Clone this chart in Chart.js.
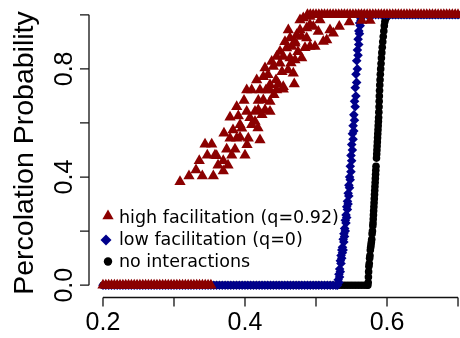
<!DOCTYPE html>
<html>
<head>
<meta charset="utf-8">
<script src="https://cdn.jsdelivr.net/npm/chart.js@4/dist/chart.umd.min.js"></script>
<style>
  html, body { margin: 0; padding: 0; background: #fff; }
  canvas { display: block; }
</style>
</head>
<body>
<canvas id="chart" width="460" height="338" style="width:460px;height:338px"></canvas>
<script>
// series names and colours
const seriesNames = ['high facilitation (q=0.92)', 'low facilitation (q=0)', 'no interactions'];
const seriesColors = ['#8b0000', '#00008b', '#000000'];
const seriesStyles = ['triangle', 'rectRot', 'circle'];

// axis ticks (R style: every tick drawn, only some labelled)
const xTicks = [0.2, 0.3, 0.4, 0.5, 0.6, 0.7];
const xTickLabels = ['0.2', '', '0.4', '', '0.6', ''];
const yTicks = [0, 0.2, 0.4, 0.6, 0.8, 1.0];
const yTickLabels = ['0.0', '', '0.4', '', '0.8', ''];
const yTitle = 'Percolation Probability';

// high facilitation: p values with probability 0, the noisy rise, p values with probability 1
const highZeroX = [0.200,0.204,0.208,0.212,0.216,0.220,0.224,0.228,0.232,0.236,0.240,0.244,0.248,0.252,0.256,0.260,0.264,0.268,0.272,0.276,0.280,0.284,0.288,0.292,0.296,0.300,0.304,0.308,0.312,0.316,0.320,0.324,0.328,0.332,0.336,0.340,0.344,0.348,0.352];
const highRiseX = [0.3085,0.3211,0.3399,0.3554,0.3694,0.3356,0.3694,0.3437,0.3531,0.3469,0.3577,0.3601,0.3742,0.3859,0.3813,0.4000,0.3704,0.3789,0.3883,0.3930,0.4046,0.3954,0.4094,0.4141,0.3789,0.3906,0.4024,0.4141,0.3883,0.3986,0.4187,0.4282,0.4352,0.4024,0.4094,0.4187,0.4258,0.4352,0.4165,0.4258,0.4211,0.4352,0.4446,0.4539,0.4352,0.4469,0.4539,0.4680,0.4694,0.4282,0.4399,0.4493,0.4376,0.4446,0.4539,0.4634,0.4704,0.4799,0.4493,0.4587,0.4658,0.4704,0.4610,0.4728,0.4799,0.4869,0.4915,0.4986,0.4775,0.4915,0.5197,0.5103,0.5151,0.5244,0.4869,0.4962,0.5032,0.4634,0.4704,0.5328,0.5469,0.5644,0.5761,0.4821,0.5056,
  0.4070,0.4239,0.4183,0.4296,0.4408,0.4324,0.4521,0.4606,0.4437,0.4211,0.4028,0.4563,0.4746,0.4845,0.4775,0.4915,0.4648,0.3930,0.3831,0.3620,0.3761,0.3310];
const highRiseY = [0.383,0.404,0.404,0.404,0.422,0.460,0.460,0.521,0.521,0.481,0.481,0.479,0.503,0.503,0.481,0.481,0.562,0.543,0.543,0.547,0.543,0.580,0.593,0.605,0.621,0.626,0.642,0.642,0.660,0.683,0.648,0.648,0.642,0.722,0.722,0.683,0.685,0.679,0.759,0.771,0.722,0.722,0.722,0.725,0.741,0.744,0.734,0.784,0.744,0.803,0.809,0.821,0.827,0.846,0.846,0.840,0.833,0.840,0.864,0.877,0.883,0.895,0.944,0.926,0.920,0.914,0.883,0.883,0.981,0.994,0.944,0.901,0.907,0.932,0.951,0.957,0.938,0.914,0.901,0.957,0.973,0.979,0.979,0.988,0.981,
  0.619,0.630,0.581,0.722,0.704,0.778,0.789,0.796,0.759,0.537,0.519,0.900,0.863,0.878,0.944,0.963,0.822,0.593,0.574,0.444,0.444,0.426];
const highOneX = [0.488,0.492,0.496,0.500,0.504,0.508,0.512,0.516,0.520,0.524,0.528,0.532,0.536,0.540,0.544,0.548,0.552,0.556,0.560,0.564,0.568,0.572,0.576,0.580,0.584,0.588,0.592,0.596,0.600,0.604,0.608,0.612,0.616,0.620,0.624,0.628,0.632,0.636,0.640,0.644,0.648,0.652,0.656,0.660,0.664,0.668,0.672,0.676,0.680,0.684,0.688,0.692,0.696,0.700];

// low facilitation
const lowZeroX = [0.200,0.204,0.208,0.212,0.216,0.220,0.224,0.228,0.232,0.236,0.240,0.244,0.248,0.252,0.256,0.260,0.264,0.268,0.272,0.276,0.280,0.284,0.288,0.292,0.296,0.300,0.304,0.308,0.312,0.316,0.320,0.324,0.328,0.332,0.336,0.340,0.344,0.348,0.352,0.356,0.360,0.364,0.368,0.372,0.376,0.380,0.384,0.388,0.392,0.396,0.400,0.404,0.408,0.412,0.416,0.420,0.424,0.428,0.432,0.436,0.440,0.444,0.448,0.452,0.456,0.460,0.464,0.468,0.472,0.476,0.480,0.484,0.488,0.492,0.496,0.500,0.504,0.508,0.512,0.516,0.520,0.524,0.528];
const lowRiseX = [0.5303,0.5322,0.5313,0.5332,0.5323,0.5342,0.5333,0.5352,0.5343,0.5362,0.5353,0.5372,0.5363,0.5382,0.5373,0.5392,0.5383,0.5402,0.5393,0.5412,0.5403,0.5422,0.5413,0.5432,0.5423,0.5442,0.5433,0.5452,0.5443,0.5462,0.5453,0.5472,0.5463,0.5482,0.5473,0.5492,0.5483,0.5502,0.5493,0.5512,0.5503,0.5522,0.5513,0.5532,0.5523,0.5542,0.5533,0.5552,0.5543,0.5562,0.5553,0.5572,0.5563,0.5582,0.5573,0.5592,0.5583,0.5602,0.5593,0.5612,0.5603,0.5622,0.5613,0.5632,0.5623,0.5642,0.5633];
const lowRiseY = [0.00,0.01,0.02,0.03,0.04,0.05,0.06,0.08,0.09,0.10,0.11,0.12,0.13,0.13,0.14,0.16,0.17,0.18,0.19,0.20,0.21,0.23,0.24,0.25,0.26,0.28,0.29,0.30,0.31,0.33,0.34,0.36,0.37,0.39,0.40,0.42,0.44,0.46,0.48,0.50,0.52,0.54,0.56,0.57,0.59,0.61,0.63,0.66,0.68,0.70,0.73,0.75,0.78,0.80,0.83,0.85,0.87,0.89,0.91,0.93,0.94,0.96,0.97,0.98,0.99,1.00,1.00];
const lowOneX = [0.568,0.572,0.576,0.580,0.584,0.588,0.592,0.596,0.600,0.604,0.608,0.612,0.616,0.620,0.624,0.628,0.632,0.636,0.640,0.644,0.648,0.652,0.656,0.660,0.664,0.668,0.672,0.676,0.680,0.684,0.688,0.692,0.696,0.700];

// no interactions
const noneZeroX = [0.200,0.204,0.208,0.212,0.216,0.220,0.224,0.228,0.232,0.236,0.240,0.244,0.248,0.252,0.256,0.260,0.264,0.268,0.272,0.276,0.280,0.284,0.288,0.292,0.296,0.300,0.304,0.308,0.312,0.316,0.320,0.324,0.328,0.332,0.336,0.340,0.344,0.348,0.352,0.356,0.360,0.364,0.368,0.372,0.376,0.380,0.384,0.388,0.392,0.396,0.400,0.404,0.408,0.412,0.416,0.420,0.424,0.428,0.432,0.436,0.440,0.444,0.448,0.452,0.456,0.460,0.464,0.468,0.472,0.476,0.480,0.484,0.488,0.492,0.496,0.500,0.504,0.508,0.512,0.516,0.520,0.524,0.528,0.532,0.536,0.540,0.544,0.548,0.552,0.556,0.560,0.564,0.568,0.572];
const noneRiseX = [0.5730,0.5735,0.5738,0.5741,0.5745,0.5750,0.5755,0.5760,0.5765,0.5770,0.5775,0.5780,0.5785,0.5790,0.5795,0.5800,0.5803,0.5806,0.5809,0.5812,0.5815,0.5818,0.5821,0.5824,0.5827,0.5830,0.5833,0.5836,0.5839,0.5842,0.5845,0.5852,0.5855,0.5858,0.5861,0.5864,0.5867,0.5870,0.5873,0.5876,0.5879,0.5882,0.5885,0.5888,0.5890,0.5892,0.5895,0.5898,0.5902,0.5906,0.5911,0.5916,0.5921,0.5927,0.5933,0.5940,0.5947,0.5955,0.5962,0.5970,0.5980,0.5990,0.6000,0.6010,0.6020];
const noneRiseY = [0.00,0.01,0.03,0.05,0.07,0.08,0.10,0.11,0.13,0.14,0.15,0.16,0.17,0.19,0.20,0.22,0.23,0.245,0.26,0.275,0.29,0.305,0.32,0.335,0.35,0.365,0.38,0.395,0.41,0.425,0.44,0.47,0.485,0.50,0.515,0.53,0.545,0.56,0.575,0.59,0.605,0.62,0.64,0.66,0.68,0.70,0.72,0.74,0.76,0.78,0.80,0.82,0.84,0.86,0.88,0.90,0.92,0.94,0.96,0.975,0.985,0.99,0.995,1.00,1.00];
const noneOneX = [0.604,0.608,0.612,0.616,0.620,0.624,0.628,0.632,0.636,0.640,0.644,0.648,0.652,0.656,0.660,0.664,0.668,0.672,0.676,0.680,0.684,0.688,0.692,0.696,0.700];

function buildPoints(zeroX, riseX, riseY, oneX) {
  const pts = [];
  zeroX.forEach(x => pts.push({ x: x, y: 0 }));
  riseX.forEach((x, i) => pts.push({ x: x, y: riseY[i] }));
  oneX.forEach(x => pts.push({ x: x, y: 1 }));
  return pts;
}

const tickFont = '25px "Liberation Sans", Arial, sans-serif';
const titleFont = '28.5px "Liberation Sans", Arial, sans-serif';
const legendFont = '17.5px "DejaVu Sans", sans-serif';

// draws the base-graphics style axes and the legend using the chart's scales
const rAxes = {
  id: 'rAxes',
  afterDraw(chart) {
    const { ctx, chartArea } = chart;
    const xs = chart.scales.x;
    const ys = chart.scales.y;
    const tickLen = 9;
    ctx.save();
    ctx.strokeStyle = '#111';
    ctx.lineWidth = 1.3;
    ctx.fillStyle = '#000';

    // x axis
    const xLineY = chartArea.bottom + 1.5;
    ctx.beginPath();
    ctx.moveTo(xs.getPixelForValue(xTicks[0]), xLineY);
    ctx.lineTo(xs.getPixelForValue(xTicks[xTicks.length - 1]), xLineY);
    xTicks.forEach(t => {
      const px = xs.getPixelForValue(t);
      ctx.moveTo(px, xLineY);
      ctx.lineTo(px, xLineY + tickLen);
    });
    ctx.stroke();
    ctx.font = tickFont;
    ctx.textAlign = 'center';
    ctx.textBaseline = 'alphabetic';
    xTicks.forEach((t, i) => {
      if (xTickLabels[i]) ctx.fillText(xTickLabels[i], xs.getPixelForValue(t), 330);
    });

    // y axis
    const yLineX = chartArea.left;
    ctx.beginPath();
    ctx.moveTo(yLineX, ys.getPixelForValue(yTicks[0]));
    ctx.lineTo(yLineX, ys.getPixelForValue(yTicks[yTicks.length - 1]));
    yTicks.forEach(t => {
      const py = ys.getPixelForValue(t);
      ctx.moveTo(yLineX, py);
      ctx.lineTo(yLineX - tickLen, py);
    });
    ctx.stroke();
    yTicks.forEach((t, i) => {
      if (!yTickLabels[i]) return;
      ctx.save();
      ctx.translate(72, ys.getPixelForValue(t));
      ctx.rotate(-Math.PI / 2);
      ctx.fillText(yTickLabels[i], 0, 0);
      ctx.restore();
    });

    // y title
    ctx.save();
    ctx.font = titleFont;
    ctx.translate(33, 153);
    ctx.rotate(-Math.PI / 2);
    ctx.fillText(yTitle, 0, 0);
    ctx.restore();

    // legend
    const legendRows = [223, 245, 267];
    const markerX = [108, 106, 108];
    const markerDy = [-7, -5, -5.5];
    const markerR = [6.5, 5.5, 4.2];
    ctx.font = legendFont;
    ctx.textAlign = 'left';
    seriesNames.forEach((name, i) => {
      ctx.fillStyle = seriesColors[i];
      Chart.helpers.drawPoint(ctx, { pointStyle: seriesStyles[i], radius: markerR[i], rotation: 0, borderWidth: 0 },
        markerX[i], legendRows[i] + markerDy[i]);
      ctx.fillStyle = '#000';
      ctx.fillText(name, 119, legendRows[i]);
    });
    ctx.restore();
  }
};

const datasets = [
  buildPoints(highZeroX, highRiseX, highRiseY, highOneX),
  buildPoints(lowZeroX, lowRiseX, lowRiseY, lowOneX),
  buildPoints(noneZeroX, noneRiseX, noneRiseY, noneOneX)
].map((pts, i) => ({
  label: seriesNames[i],
  data: pts,
  pointStyle: seriesStyles[i],
  pointRadius: [6.5, 4.8, 3.8][i],
  pointBackgroundColor: seriesColors[i],
  pointBorderColor: seriesColors[i],
  pointBorderWidth: 0,
  showLine: false
}));

new Chart(document.getElementById('chart').getContext('2d'), {
  type: 'scatter',
  data: { datasets: datasets },
  options: {
    responsive: false,
    animation: false,
    devicePixelRatio: 1,
    layout: { autoPadding: false, padding: { left: 89, top: 4, right: 0, bottom: 42 } },
    scales: {
      x: { type: 'linear', display: false, min: 0.1803, max: 0.7028 },
      y: { type: 'linear', display: false, min: -0.04, max: 1.04 }
    },
    plugins: {
      legend: { display: false },
      tooltip: { enabled: false }
    }
  },
  plugins: [rAxes]
});
</script>
</body>
</html>
